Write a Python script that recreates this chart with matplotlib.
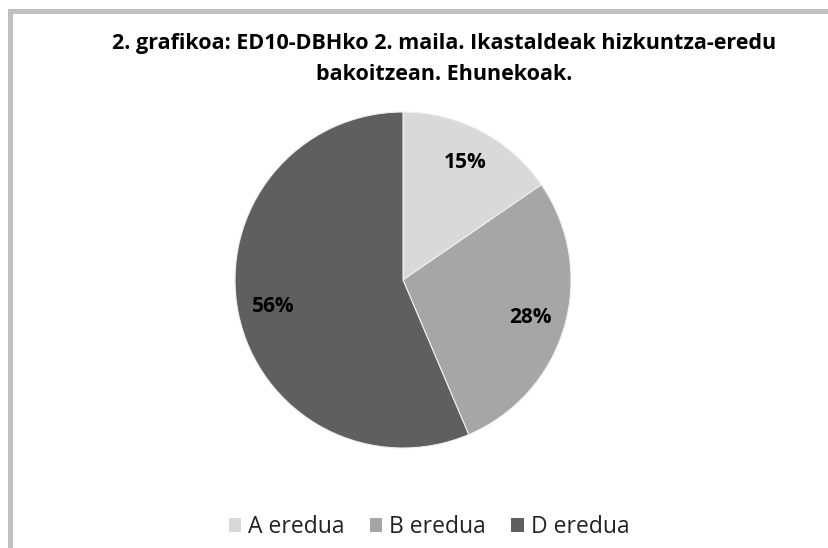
import matplotlib
matplotlib.use('Agg')
import matplotlib.pyplot as plt
from matplotlib.patches import Rectangle

# data
categories = ['A eredua', 'B eredua', 'D eredua']
shares = [15.4, 28.2, 56.4]
colors = ['#d9d9d9', '#a6a6a6', '#5f5f5f']
title = '2. grafikoa: ED10-DBHko 2. maila. Ikastaldeak hizkuntza-eredu\nbakoitzean. Ehunekoak.'

W, H = 829, 548
plt.rcParams['font.family'] = ['Open Sans', 'DejaVu Sans']

fig = plt.figure(figsize=(W / 100, H / 100), dpi=100)
fig.patch.set_facecolor('white')

# grey frame, only top and left edges fall inside the picture
fig.patches.append(Rectangle((10.5 / W, -0.5), 2.0, 1.5 - 10.5 / H, transform=fig.transFigure,
                             fill=False, edgecolor='#c0c0c0', linewidth=3.6, zorder=0))

cx, cy, r = 403 / W, 1 - 280 / H, 168
ax = fig.add_axes([cx - r / W, cy - r / H, 2 * r / W, 2 * r / H])
wedges, texts, autotexts = ax.pie(
    shares, colors=colors, startangle=90, counterclock=False,
    autopct='%.0f%%', pctdistance=0.79,
    wedgeprops={'edgecolor': '#f0f0f0', 'linewidth': 0.8},
    textprops={'fontsize': 15, 'fontweight': 'bold', 'color': 'black'})
ax.set_xlim(-1.0, 1.0)
ax.set_ylim(-1.0, 1.0)
ax.set_aspect('equal')
ax.axis('off')

fig.text(444 / W, 1 - 59 / H, title, ha='center', va='center', fontsize=15.5,
         fontweight='bold', linespacing=1.6)

handles = [Rectangle((0, 0), 1, 1, facecolor=c, edgecolor='none') for c in colors]
leg = fig.legend(handles, categories, loc='center', bbox_to_anchor=(429 / W, 1 - 527 / H),
                 ncol=3, frameon=False, fontsize=16.5, handlelength=0.55, handleheight=0.55,
                 handletextpad=0.3, columnspacing=1.1)
for t in leg.get_texts():
    t.set_color('#222222')

fig.savefig('out.png', dpi=100)
